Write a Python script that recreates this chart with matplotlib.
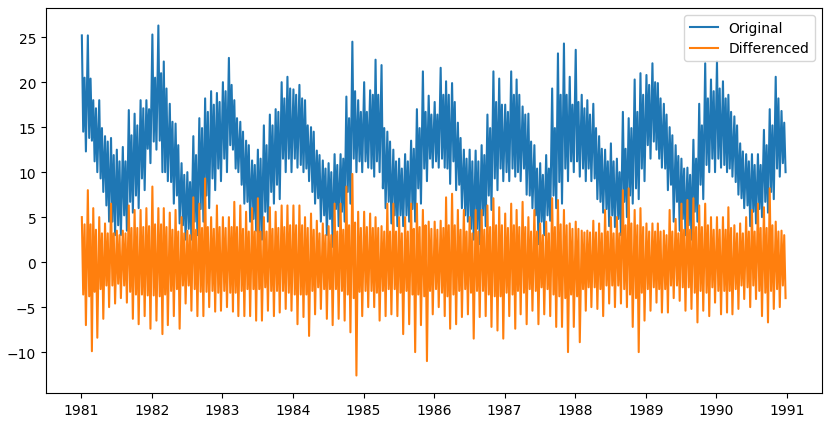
import matplotlib
matplotlib.use("Agg")
import matplotlib.pyplot as plt
import matplotlib.dates as mdates
import numpy as np
import pandas as pd

# values, one per month, Jan 1981 .. Dec 1990
# *_hi / *_lo : highest and lowest spikes of the month
# *_core_hi / *_core_lo : edges of the dense part of the band
orig_hi = [
    25.2, 25.2, 18.0, 18.0, 14.0, 13.8, 12.5, 12.8, 16.9, 16.5, 18.0, 18.0,
    25.3, 26.3, 22.3, 17.6, 15.4, 11.0, 10.0, 14.0, 16.0, 18.2, 19.0, 18.8,
    20.0, 22.7, 18.0, 15.6, 13.5, 11.3, 12.5, 15.2, 16.4, 17.0, 20.0, 20.6,
    19.2, 19.7, 18.0, 15.0, 12.4, 11.3, 11.0, 12.0, 12.0, 18.4, 24.5, 18.0,
    20.0, 19.1, 22.5, 21.9, 14.5, 12.5, 11.5, 12.0, 13.5, 17.0, 21.2, 18.5,
    17.8, 21.6, 20.1, 19.9, 15.5, 12.5, 12.5, 12.4, 13.0, 16.4, 21.2, 20.4,
    17.5, 21.2, 20.3, 17.3, 16.5, 13.0, 11.0, 11.9, 19.3, 23.2, 24.3, 20.6,
    23.6, 18.6, 18.0, 17.6, 14.0, 12.5, 13.2, 11.5, 16.7, 16.0, 20.3, 21.0,
    20.8, 22.1, 19.9, 17.6, 15.0, 13.0, 11.5, 10.5, 13.6, 17.6, 22.1, 20.3,
    22.3, 20.1, 18.6, 16.2, 13.2, 12.0, 12.0, 12.0, 14.7, 17.0, 20.6, 16.8,
]
orig_core_hi = [
    20.5, 20.4, 17.1, 14.9, 13.4, 11.9, 11.2, 11.2, 14.1, 15.2, 17.1, 17.0,
    20.5, 21.0, 19.3, 15.6, 13.0, 9.7, 8.9, 11.9, 14.9, 16.7, 17.5, 17.8,
    19.0, 19.7, 16.0, 14.5, 13.0, 10.8, 11.5, 13.0, 15.2, 16.7, 18.2, 19.3,
    18.6, 18.2, 15.2, 14.5, 11.9, 10.4, 10.0, 10.8, 11.5, 16.0, 19.0, 16.7,
    16.7, 18.6, 18.6, 14.9, 13.4, 11.2, 10.4, 11.2, 12.6, 14.9, 16.7, 16.4,
    16.4, 18.6, 18.6, 17.8, 13.8, 11.5, 11.2, 11.2, 11.9, 14.9, 17.8, 17.5,
    16.7, 18.6, 18.6, 16.4, 13.4, 10.4, 9.7, 10.4, 14.9, 18.6, 18.6, 17.5,
    17.8, 17.1, 16.4, 14.9, 12.6, 11.2, 11.2, 10.0, 12.6, 14.9, 16.7, 18.6,
    19.7, 20.0, 18.2, 16.4, 14.1, 11.8, 10.4, 9.7, 11.5, 15.2, 18.2, 19.0,
    19.3, 18.2, 16.7, 15.2, 12.3, 11.2, 10.8, 10.8, 13.0, 15.2, 18.2, 15.5,
]
orig_core_lo = [
    14.5, 13.8, 11.2, 9.3, 6.3, 4.5, 4.1, 5.2, 6.7, 7.4, 9.3, 12.6,
    13.4, 13.5, 10.0, 8.9, 7.4, 4.1, 3.7, 4.5, 5.9, 7.4, 9.3, 10.4,
    11.5, 13.0, 10.4, 8.6, 6.7, 4.8, 3.3, 5.6, 7.8, 8.6, 11.5, 11.5,
    11.5, 10.8, 10.4, 7.8, 7.1, 5.2, 4.8, 5.9, 5.6, 7.8, 11.5, 11.2,
    11.2, 10.4, 11.2, 8.2, 6.7, 5.2, 5.2, 5.2, 5.9, 8.2, 10.4, 11.5,
    11.2, 11.5, 10.4, 11.2, 8.6, 5.2, 3.7, 3.7, 5.2, 7.4, 9.3, 10.4,
    10.0, 10.4, 10.0, 10.4, 7.4, 5.2, 4.5, 5.2, 7.4, 8.9, 10.4, 11.2,
    11.2, 10.4, 10.4, 9.3, 6.7, 5.9, 5.2, 4.8, 6.7, 7.4, 8.2, 10.4,
    13.0, 13.4, 11.5, 10.4, 8.6, 6.7, 4.8, 4.1, 5.6, 8.6, 10.8, 11.5,
    11.5, 10.8, 10.4, 8.9, 7.1, 6.3, 5.6, 5.9, 6.7, 7.8, 10.4, 11.0,
]
orig_lo = [
    12.3, 13.5, 10.0, 7.8, 4.5, 3.0, 3.0, 3.5, 5.5, 6.0, 8.0, 11.0,
    12.5, 10.0, 9.0, 6.5, 4.3, 2.5, 2.5, 3.0, 4.5, 6.0, 8.0, 9.0,
    10.0, 12.5, 10.0, 6.5, 4.5, 3.5, 2.5, 4.5, 6.5, 7.0, 10.0, 10.0,
    10.5, 10.0, 9.0, 6.5, 4.5, 3.0, 1.7, 4.0, 4.5, 6.5, 10.0, 10.0,
    10.5, 9.5, 10.0, 6.0, 4.3, 4.0, 4.0, 4.5, 4.5, 6.5, 9.0, 10.5,
    10.5, 10.5, 8.7, 8.0, 6.0, 4.5, 2.5, 2.0, 4.0, 5.8, 8.0, 9.0,
    9.0, 9.5, 9.0, 7.5, 6.0, 2.0, 3.0, 4.6, 6.0, 6.5, 9.0, 10.0,
    9.5, 9.0, 9.0, 7.0, 5.5, 4.0, 3.9, 3.0, 5.0, 6.5, 7.0, 9.0,
    11.5, 12.5, 10.5, 8.0, 4.5, 3.5, 3.0, 2.5, 4.5, 7.0, 10.0, 10.0,
    10.5, 10.0, 9.5, 7.5, 6.0, 4.0, 4.3, 5.0, 5.5, 7.0, 9.5, 10.0,
]

diff_hi = [
    5.0, 8.0, 6.0, 5.0, 4.3, 6.5, 3.5, 3.5, 6.3, 5.8, 5.8, 6.0,
    8.4, 6.0, 6.0, 5.5, 5.8, 5.0, 3.5, 7.2, 6.5, 9.3, 5.0, 6.3,
    5.0, 5.0, 6.7, 6.3, 5.6, 6.0, 7.1, 5.0, 6.1, 5.6, 6.3, 6.3,
    6.3, 6.3, 5.0, 5.4, 4.6, 4.3, 4.0, 6.5, 6.5, 8.4, 9.8, 5.6,
    5.6, 5.4, 5.0, 4.0, 6.5, 6.5, 5.0, 5.0, 6.5, 6.5, 5.8, 4.5,
    4.5, 4.6, 7.2, 7.6, 5.8, 5.8, 5.0, 5.8, 5.8, 6.3, 7.1, 6.1,
    5.4, 6.5, 5.8, 6.7, 5.0, 5.8, 4.3, 4.5, 7.1, 6.9, 5.8, 4.3,
    4.5, 3.5, 3.5, 4.6, 4.3, 5.8, 5.0, 5.0, 8.0, 8.2, 5.8, 6.0,
    4.3, 4.3, 4.3, 3.5, 5.8, 4.8, 6.5, 6.9, 7.1, 6.3, 6.5, 5.0,
    5.0, 5.0, 6.1, 4.1, 4.3, 5.0, 5.8, 6.5, 6.1, 8.2, 4.5, 3.5,
]
diff_core_hi = [
    4.2, 4.2, 3.6, 3.2, 3.2, 3.2, 3.0, 3.2, 3.8, 3.8, 3.9, 4.0,
    4.2, 4.2, 3.9, 3.6, 3.4, 3.2, 3.0, 3.6, 3.8, 3.9, 3.7, 3.9,
    3.8, 3.9, 3.9, 3.7, 3.4, 3.4, 3.4, 3.4, 3.7, 3.8, 3.9, 4.1,
    4.1, 4.1, 3.8, 3.6, 3.2, 3.0, 3.0, 3.4, 3.6, 4.1, 4.4, 3.8,
    3.9, 3.8, 3.8, 3.4, 3.4, 3.4, 3.2, 3.4, 3.7, 3.9, 4.1, 3.7,
    3.6, 3.8, 4.1, 4.1, 3.6, 3.4, 3.2, 3.4, 3.6, 3.9, 4.1, 4.1,
    3.8, 4.1, 3.9, 3.9, 3.4, 3.4, 3.0, 3.2, 3.9, 4.2, 4.1, 3.7,
    3.7, 3.3, 3.3, 3.3, 3.2, 3.4, 3.2, 3.2, 4.1, 4.3, 4.1, 3.9,
    3.4, 3.4, 3.4, 3.0, 3.4, 3.2, 3.6, 3.6, 3.9, 3.9, 4.1, 3.6,
    3.6, 3.6, 3.8, 3.2, 3.2, 3.4, 3.4, 3.8, 3.8, 4.1, 3.4, 3.0,
]
diff_core_lo = [
    -3.6, -3.8, -3.3, -3.0, -2.6, -2.6, -2.4, -2.6, -3.3, -3.6, -3.6, -3.7,
    -3.7, -3.8, -3.6, -3.2, -3.0, -2.6, -2.6, -3.0, -3.3, -3.3, -3.2, -3.4,
    -3.2, -3.4, -3.4, -3.2, -3.0, -3.0, -3.0, -2.8, -3.2, -3.2, -3.2, -3.4,
    -3.6, -3.6, -3.6, -3.2, -2.8, -3.0, -3.0, -3.0, -3.2, -3.6, -4.0, -3.3,
    -3.2, -3.2, -3.4, -3.2, -3.0, -3.0, -3.4, -3.2, -3.6, -3.6, -3.8, -3.2,
    -3.0, -3.4, -3.8, -3.6, -3.2, -3.0, -3.4, -3.2, -3.2, -3.6, -3.8, -3.8,
    -3.4, -3.6, -3.2, -3.4, -3.0, -3.2, -2.8, -3.0, -3.6, -3.8, -4.0, -3.6,
    -3.8, -3.0, -2.8, -2.8, -3.0, -2.6, -2.6, -2.6, -3.0, -3.6, -4.0, -3.4,
    -3.0, -2.8, -3.0, -3.0, -2.6, -2.6, -2.8, -2.8, -3.4, -3.2, -3.4, -2.8,
    -3.2, -3.2, -3.2, -3.0, -2.6, -2.8, -2.6, -3.2, -3.4, -3.2, -3.0, -2.6,
]
diff_lo = [
    -7.0, -9.9, -8.4, -6.3, -5.0, -4.6, -4.0, -4.5, -6.3, -6.9, -6.0, -7.4,
    -6.5, -8.0, -7.0, -6.0, -7.4, -4.6, -5.4, -6.0, -6.0, -5.0, -5.5, -5.4,
    -5.0, -5.5, -6.0, -6.0, -6.0, -6.5, -6.5, -5.4, -6.0, -5.6, -5.2, -5.4,
    -6.9, -6.1, -8.2, -5.8, -5.2, -6.3, -7.0, -6.3, -6.5, -7.8, -12.6, -6.0,
    -5.0, -5.0, -6.5, -6.0, -5.8, -6.0, -8.0, -6.9, -10.0, -7.0, -11.0, -5.8,
    -5.0, -6.0, -7.4, -6.9, -6.1, -5.8, -8.5, -6.1, -6.0, -7.2, -7.6, -8.5,
    -6.0, -7.4, -5.8, -6.9, -5.4, -6.9, -5.8, -6.0, -7.2, -7.2, -10.0, -7.2,
    -8.9, -5.4, -5.0, -5.2, -6.0, -4.6, -5.0, -4.6, -5.0, -7.2, -10.0, -6.5,
    -5.4, -4.5, -5.6, -5.6, -4.0, -4.3, -5.4, -5.2, -6.7, -5.4, -6.0, -4.5,
    -5.8, -5.6, -5.8, -5.2, -4.1, -5.0, -4.1, -6.0, -6.7, -5.2, -5.0, -4.0,
]

months = pd.date_range("1981-01-01", periods=120, freq="MS")


def zigzag(hi, core_hi, core_lo, lo):
    # four points a month: spike up, core low, core high, spike down
    x = np.empty(480, dtype="datetime64[ns]")
    y = np.empty(480)
    for k, (day, vals) in enumerate([(3, hi), (10, core_lo), (17, core_hi), (24, lo)]):
        x[k::4] = (months + pd.Timedelta(days=day)).values
        y[k::4] = vals
    return x, y


fig = plt.figure(figsize=(8.31, 4.27), dpi=100)
ax = fig.add_axes([46 / 831, 33 / 427, 776 / 831, 385 / 427])

xo, yo = zigzag(orig_hi, orig_core_hi, orig_core_lo, orig_lo)
xd, yd = zigzag(diff_hi, diff_core_hi, diff_core_lo, diff_lo)
ax.plot(xo, yo, label="Original")
ax.plot(xd, yd, label="Differenced")

start = pd.Timestamp("1981-01-01")
end = pd.Timestamp("1990-12-31")
span = end - start
ax.set_xlim(start - 0.05 * span, end + 0.05 * span)
ax.xaxis.set_major_locator(mdates.YearLocator())
ax.xaxis.set_major_formatter(mdates.DateFormatter("%Y"))

ax.legend(loc="upper right")
plt.savefig("out.png", dpi=100)
